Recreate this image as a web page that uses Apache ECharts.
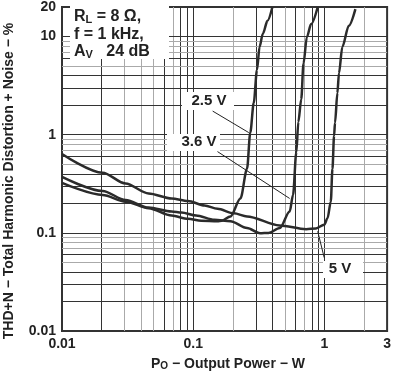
<!DOCTYPE html>
<html><head><meta charset="utf-8">
<script src="https://cdn.jsdelivr.net/npm/echarts@6/dist/echarts.min.js"></script>
<style>html,body{margin:0;padding:0;background:#fff}#c{width:394px;height:372px}</style>
</head><body><div id="c"></div>
<script>
// ---- data ----
const seriesNames = ['2.5 V', '3.6 V', '5 V'];
const power25 = [0.01, 0.0204, 0.0305, 0.0457, 0.0684, 0.0912, 0.115, 0.153, 0.165, 0.192, 0.229, 0.257, 0.272, 0.289, 0.306, 0.32, 0.339, 0.368, 0.401];
const thd25   = [0.323, 0.243, 0.208, 0.178, 0.150, 0.139, 0.133, 0.131, 0.133, 0.147, 0.224, 0.45, 1.05, 2.11, 4.56, 7.84, 10.67, 14.5, 20];
const power36 = [0.01, 0.0204, 0.0305, 0.0457, 0.0684, 0.0813, 0.105, 0.145, 0.192, 0.257, 0.323, 0.374, 0.457, 0.543, 0.576, 0.61, 0.632, 0.665, 0.692, 0.734, 0.791, 0.888];
const thd36   = [0.371, 0.267, 0.216, 0.181, 0.165, 0.161, 0.150, 0.136, 0.131, 0.112, 0.099, 0.0998, 0.112, 0.165, 0.243, 0.662, 1.35, 2.3, 5.32, 9.88, 13.4, 20];
const power50 = [0.01, 0.0204, 0.0305, 0.0457, 0.0684, 0.0912, 0.122, 0.153, 0.204, 0.257, 0.455, 0.725, 0.861, 0.995, 1.055, 1.117, 1.15, 1.183, 1.203, 1.254, 1.289, 1.367, 1.532, 1.72];
const thd50   = [0.637, 0.410, 0.318, 0.252, 0.224, 0.211, 0.190, 0.176, 0.158, 0.147, 0.119, 0.109, 0.111, 0.121, 0.141, 0.208, 0.45, 0.975, 1.327, 2.66, 4.23, 7.84, 12.9, 19.05];

const xTickLabels = ['0.01', '0.1', '1', '3'];
const yTickLabels = ['0.01', '0.1', '1', '10', '20'];
const xRange = [0.01, 3];
const yRange = [0.01, 20];

// grid lines (values)
const xGridDark  = [0.02, 0.06, 0.08, 0.09, 0.1, 0.3, 0.4, 0.6, 0.8, 0.9, 1];
const xGridLight = [0.03, 0.04, 0.05, 0.07, 0.2, 0.5, 0.7, 2];
const yGridDark  = [0.02, 0.03, 0.04, 0.06, 0.1, 0.2, 0.3, 0.4, 0.6, 1, 2, 3, 4, 6, 10];
const yGridLight = [0.05, 0.07, 0.08, 0.09, 0.5, 0.7, 0.8, 0.9, 5, 7, 8, 9];

// leader lines for labels: [labelEnd, curvePoint] in data units
const leader25 = [[0.1406, 1.74], [0.265, 1.05]];
const leader36 = [[0.153, 0.673], [0.543, 0.224]];
const leader50 = [[0.995, 0.0559], [0.888, 0.1037]];

// ---- chart ----
const FF = '"Liberation Sans", Arial, sans-serif';
const DARK = '#333', LIGHT = '#aaa';
function pairs(xs, ys) { return xs.map((x, i) => [x, ys[i]]); }
function fmt(labels) {
  return v => { const s = labels.find(l => Math.abs(Math.log10(+l) - Math.log10(v)) < 1e-6); return s || ''; };
}
function leader(seg) {
  return { symbol: 'none', silent: true, animation: false, z: 4, label: { show: false },
    lineStyle: { color: '#222', width: 1, type: 'solid' },
    data: [[{ coord: seg[0] }, { coord: seg[1] }]] };
}
const curveStyle = { color: '#2b2b2b', width: 2.5 };
function curve(name, xs, ys, seg) {
  return { type: 'line', name, data: pairs(xs, ys), showSymbol: false, symbol: 'none',
    smooth: 0.3, smoothMonotone: 'x', lineStyle: curveStyle, z: 5, silent: true, markLine: leader(seg) };
}
const gridLines = [].concat(
  xGridDark.map(v => ({ xAxis: v, lineStyle: { color: DARK } })),
  xGridLight.map(v => ({ xAxis: v, lineStyle: { color: LIGHT } })),
  yGridDark.map(v => ({ yAxis: v, lineStyle: { color: DARK } })),
  yGridLight.map(v => ({ yAxis: v, lineStyle: { color: LIGHT } }))
);

const chart = echarts.init(document.getElementById('c'), null, { renderer: 'canvas' });
const labelFont = { fontFamily: FF, fontWeight: 'bold', fontSize: 14, color: '#222' };
chart.setOption({
  animation: false,
  backgroundColor: '#fff',
  grid: { left: 62, right: 2, top: 3, bottom: 41, show: true, borderColor: DARK, borderWidth: 2, backgroundColor: '#fff' },
  xAxis: {
    type: 'log', logBase: 10, min: xRange[0], max: xRange[1],
    axisLine: { show: true, lineStyle: { color: DARK, width: 2 } },
    axisTick: { show: false }, splitLine: { show: false }, minorTick: { show: false },
    axisLabel: Object.assign({ margin: 6, formatter: fmt(xTickLabels), showMaxLabel: true, showMinLabel: true }, labelFont)
  },
  yAxis: {
    type: 'log', logBase: 10, min: yRange[0], max: yRange[1],
    axisLine: { show: true, lineStyle: { color: DARK, width: 2 } },
    axisTick: { show: false }, splitLine: { show: false }, minorTick: { show: false },
    axisLabel: Object.assign({ margin: 6, formatter: fmt(yTickLabels), showMaxLabel: true, showMinLabel: true }, labelFont)
  },
  series: [
    { type: 'line', data: [[0.01, 0.01]], symbol: 'none', lineStyle: { opacity: 0 }, z: 1, silent: true,
      markLine: { symbol: 'none', silent: true, animation: false, z: 1, label: { show: false },
        lineStyle: { width: 1, type: 'solid' }, data: gridLines } },
    curve(seriesNames[0], power25, thd25, leader25),
    curve(seriesNames[1], power36, thd36, leader36),
    curve(seriesNames[2], power50, thd50, leader50)
  ],
  graphic: [
    { type: 'rect', z: 100, shape: { x: 70, y: 4, width: 99, height: 55 }, style: { fill: '#fff' } },
    { type: 'text', z: 101, x: 74, y: 8, style: {
        text: '{a|R}{s|L}{a| = 8 Ω,}\n{a|f = 1 kHz,}\n{a|A}{s|V}{a|   24 dB}',
        rich: {
          a: { fontFamily: FF, fontWeight: 'bold', fontSize: 16, lineHeight: 17.5, fill: '#222' },
          s: { fontFamily: FF, fontWeight: 'bold', fontSize: 11, lineHeight: 11, verticalAlign: 'bottom', fill: '#222' }
        }, verticalAlign: 'top', align: 'left' } },
    { type: 'rect', z: 100, shape: { x: 182, y: 92, width: 52, height: 18 }, style: { fill: '#fff' } },
    { type: 'text', z: 101, x: 209, y: 101, style: { text: seriesNames[0], fontFamily: FF, fontWeight: 'bold', fontSize: 15, fill: '#222', align: 'center', verticalAlign: 'middle' } },
    { type: 'rect', z: 100, shape: { x: 167, y: 134, width: 53, height: 17 }, style: { fill: '#fff' } },
    { type: 'text', z: 101, x: 199, y: 142, style: { text: seriesNames[1], fontFamily: FF, fontWeight: 'bold', fontSize: 15, fill: '#222', align: 'center', verticalAlign: 'middle' } },
    { type: 'rect', z: 100, shape: { x: 323, y: 261, width: 40, height: 17 }, style: { fill: '#fff' } },
    { type: 'text', z: 101, x: 340, y: 269, style: { text: seriesNames[2], fontFamily: FF, fontWeight: 'bold', fontSize: 15, fill: '#222', align: 'center', verticalAlign: 'middle' } },
    { type: 'text', z: 101, x: 228, y: 364, style: {
        text: '{a|P}{s|O}{a| − Output Power − W}',
        rich: {
          a: { fontFamily: FF, fontWeight: 'bold', fontSize: 14, lineHeight: 15, fill: '#222' },
          s: { fontFamily: FF, fontWeight: 'bold', fontSize: 10, lineHeight: 10, verticalAlign: 'bottom', fill: '#222' }
        }, align: 'center', verticalAlign: 'middle' } },
    { type: 'text', z: 101, x: 9, y: 181, rotation: Math.PI / 2, style: {
        text: 'THD+N − Total Harmonic Distortion + Noise − %', fontFamily: FF, fontWeight: 'bold', fontSize: 14, fill: '#222',
        align: 'center', verticalAlign: 'middle' } }
  ]
});
</script>
</body></html>
